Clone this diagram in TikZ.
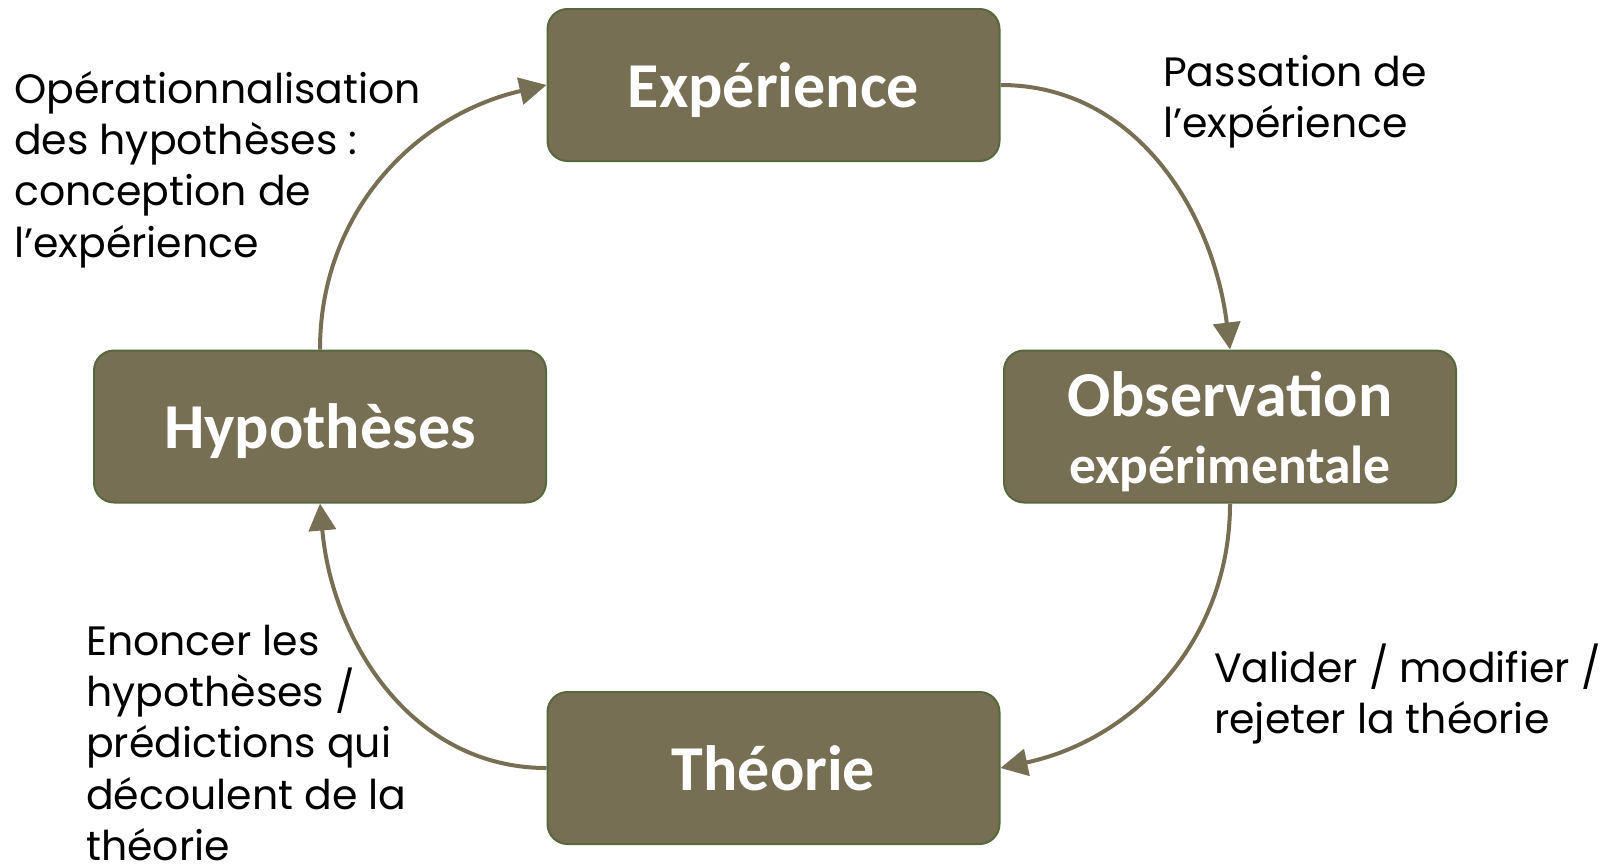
\documentclass[tikz,border=0pt]{standalone}
\usepackage{fontspec}
\usetikzlibrary{arrows.meta}
\newfontfamily\labelfont{Poppins}
\newfontfamily\boxfont{Carlito}
\definecolor{boxfill}{RGB}{119,111,83}
\definecolor{boxline}{RGB}{86,104,60}
\definecolor{arrowcol}{RGB}{119,111,83}
\tikzset{
  stage/.style={draw=boxline, line width=2pt, fill=boxfill, rounded corners=20pt,
    minimum width=452pt, minimum height=152pt, text=white, align=center,
    text height=50pt, text depth=6pt,
    font=\boxfont\bfseries\fontsize{64}{70}\selectfont},
  cycle/.style={draw=arrowcol, line width=4pt,
    -{Triangle[length=27pt,width=27pt]}},
  note/.style={anchor=base west, inner sep=0pt, align=left,
    font=\labelfont\fontsize{41}{51.4}\selectfont}
}
\begin{document}
\begin{tikzpicture}[x=1pt,y=-1pt]
\useasboundingbox (0,0) rectangle (1613,865);
% the four stages of the cycle
\node[stage] (exp) at (773.5,85) {Expérience};
\node[stage] (hyp) at (320,426.5) {Hypothèses};
\node[stage, text height=120pt, text depth=6pt] (obs) at (1230,426.5)
  {Observation\\[-3pt]{\fontsize{53.5}{56}\selectfont expérimentale}};
\node[stage] (the) at (773.5,768) {Théorie};
% connectors around the cycle
\draw[cycle] (hyp.north) to[out=90,in=193] (exp.west);
\draw[cycle] (exp.east) to[out=0,in=97] (obs.north);
\draw[cycle] (obs.south) to[out=-90,in=12] (the.east);
\draw[cycle] (the.west) to[out=180,in=-85] (hyp.south);
% step descriptions (placed at the baseline of their last line)
\node[note] (n1) at (14,257.2) {Opérationnalisation\\des hypothèses :\\conception de\\l’expérience};
\node[note] (n2) at (1163,137.4) {Passation de\\l’expérience};
\node[note] (n3) at (1214,733.4) {Valider / modifier /\\rejeter la théorie};
\node[note] (n4) at (86,860.6) {Enoncer les\\hypothèses /\\prédictions qui\\découlent de la\\théorie};
\end{tikzpicture}
\end{document}
